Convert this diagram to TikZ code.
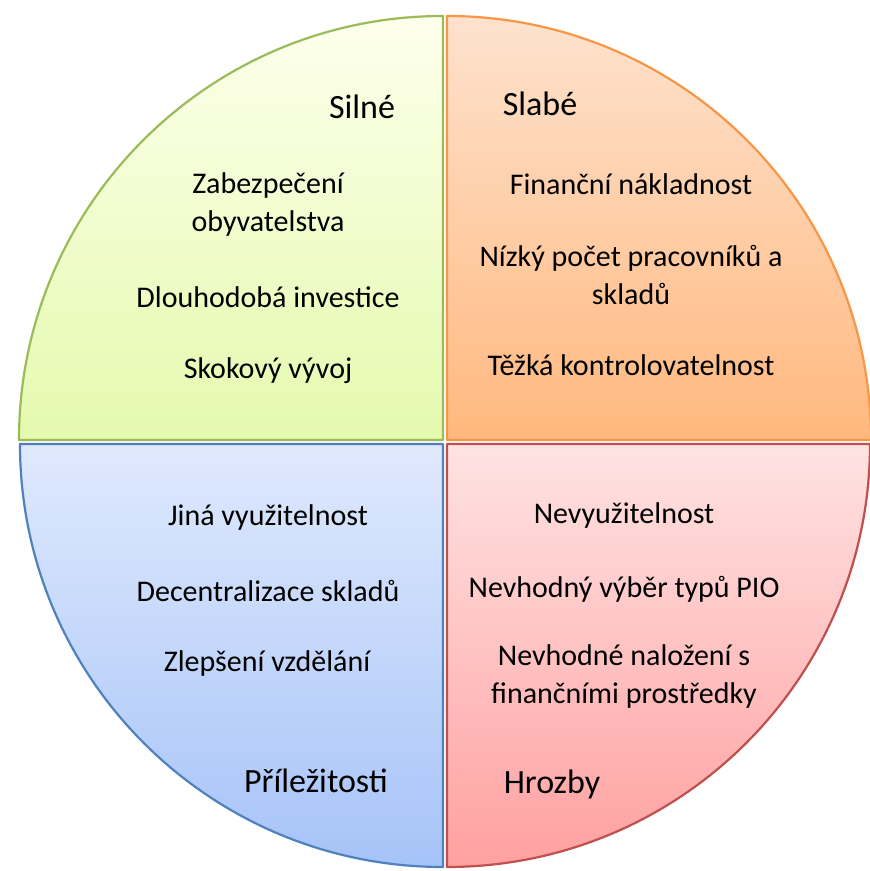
\documentclass[tikz,border=0pt]{standalone}
\usepackage{fontspec}
\setmainfont{Carlito}
\usetikzlibrary{positioning}
\definecolor{silne}{HTML}{9BBB59}
\definecolor{slabe}{HTML}{F79646}
\definecolor{prilez}{HTML}{4F81BD}
\definecolor{hrozby}{HTML}{C0504D}
\definecolor{silneTop}{HTML}{FDFFEC}
\definecolor{silneBot}{HTML}{E4FAAE}
\definecolor{slabeTop}{HTML}{FEE2CE}
\definecolor{slabeBot}{HTML}{FFB87E}
\definecolor{prilezTop}{HTML}{DFE9FD}
\definecolor{prilezBot}{HTML}{A6C3F8}
\definecolor{hrozbyTop}{HTML}{FFE3E3}
\definecolor{hrozbyBot}{HTML}{FFA0A0}
\tikzset{
  quad/.style={line width=1.1pt,line join=round},
  item/.style={font=\fontsize{15}{19}\selectfont,align=center,inner sep=0pt},
  head/.style={font=\fontsize{17}{20}\selectfont,inner sep=0pt}
}

\begin{document}
\begin{tikzpicture}[x=0.5pt,y=0.5pt]
  \useasboundingbox (0,0) rectangle (869,871);
  \fill[white] (0,0) rectangle (869,871);

  % Silne (top left)
  \shade[top color=silneTop,bottom color=silneBot]
    (443,431) -- (19,431) arc[start angle=180,end angle=90,radius=424] -- cycle;
  \draw[quad,silne] (443,431) -- (19,431) arc[start angle=180,end angle=90,radius=424] -- cycle;
  \node[head] (silne) at (362,764) {Silné};
  \node[item] (zabez) at (268,666) {Zabezpečení\\obyvatelstva};
  \node[item] (dlouho) at (268,574) {Dlouhodobá investice};
  \node[item] (skok) at (268,500) {Skokový vývoj};

  % Slabe (top right)
  \shade[top color=slabeTop,bottom color=slabeBot]
    (447,431) -- (447,855) arc[start angle=90,end angle=0,radius=424] -- cycle;
  \draw[quad,slabe] (447,431) -- (447,855) arc[start angle=90,end angle=0,radius=424] -- cycle;
  \node[head] (slabe) at (540,767) {Slabé};
  \node[item] (financ) at (631,687) {Finanční nákladnost};
  \node[item] (nizky) at (631,596) {Nízký počet pracovníků a\\skladů};
  \node[item] (tezka) at (631,506) {Těžká kontrolovatelnost};

  % Prilezitosti (bottom left)
  \shade[top color=prilezTop,bottom color=prilezBot]
    (443,427) -- (443,4) arc[start angle=270,end angle=180,radius=423] -- cycle;
  \draw[quad,prilez] (443,427) -- (443,4) arc[start angle=270,end angle=180,radius=423] -- cycle;
  \node[item] (jina) at (268,353) {Jiná využitelnost};
  \node[item] (decent) at (268,280) {Decentralizace skladů};
  \node[item] (zleps) at (267,207) {Zlepšení vzdělání};
  \node[head] (prilez) at (316,90) {Příležitosti};

  % Hrozby (bottom right)
  \shade[top color=hrozbyTop,bottom color=hrozbyBot]
    (447,427) -- (870,427) arc[start angle=0,end angle=-90,radius=423] -- cycle;
  \draw[quad,hrozby] (447,427) -- (870,427) arc[start angle=0,end angle=-90,radius=423] -- cycle;
  \node[item] (nevyuz) at (624,355) {Nevyužitelnost};
  \node[item] (nevhod) at (624,282) {Nevhodný výběr typů PIO};
  \node[item] (nalozeni) at (624,194) {Nevhodné naložení s\\finančními prostředky};
  \node[head] (hrozby) at (552,87) {Hrozby};
\end{tikzpicture}
\end{document}
